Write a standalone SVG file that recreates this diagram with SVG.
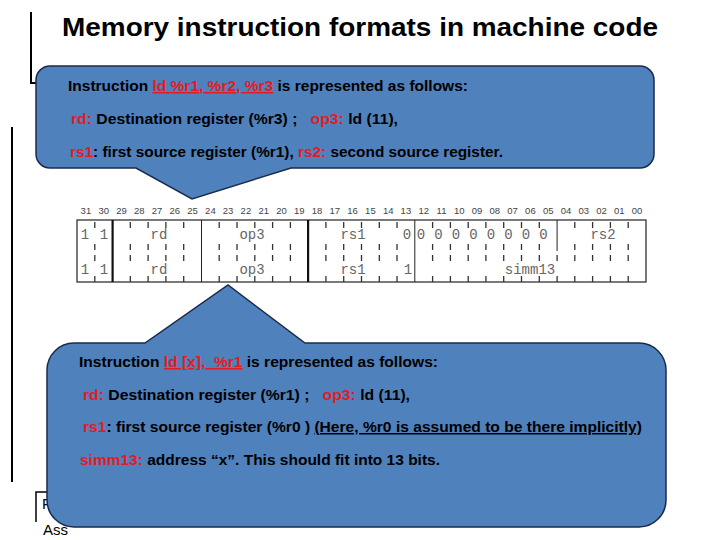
<svg xmlns="http://www.w3.org/2000/svg" width="720" height="540" viewBox="0 0 720 540">
<style>
.title{font-family:"Liberation Sans",Arial,sans-serif;font-weight:bold;font-size:26px;fill:#000}
.ct{font-family:"Liberation Sans",Arial,sans-serif;font-weight:bold;font-size:15px;fill:#000}
.r{fill:#E41B23}
.u{text-decoration:underline}
.callout{fill:#4F81BD;stroke:#1A2B4A;stroke-width:1.5}
.rule{fill:none;stroke:#000;stroke-width:2}
.num{font-family:"Liberation Sans",Arial,sans-serif;font-size:9.5px;fill:#444;text-anchor:middle}
.cell{font-family:"Liberation Mono","Courier New",monospace;font-size:14px;fill:#666;text-anchor:middle}
.tbl{fill:#fff;stroke:#222;stroke-width:1.2}
.thin{stroke:#222;stroke-width:1}
.thick{stroke:#111;stroke-width:2.2}
.tick{fill:none;stroke:#333;stroke-width:1.3}
.bg{font-family:"Liberation Sans",Arial,sans-serif;font-size:15px;fill:#000}
</style>

<g id="title">
<text class="title" x="62" y="36" textLength="596" lengthAdjust="spacingAndGlyphs">Memory instruction formats in machine code</text>
</g>

<g id="frame-lines">
<path class="rule" d="M31 12 V83 H40"/>
<path class="rule" d="M12 127 V482"/>
<path fill="none" stroke="#000" stroke-width="1.5" d="M36 522 V492 H52"/>
<text class="bg" x="42" y="509">F</text>
<text class="bg" x="43" y="535">Ass</text>
</g>

<g id="bit-format-table">
<g id="bit-numbers">
<text class="num" x="85.9" y="214">31</text>
<text class="num" x="103.7" y="214">30</text>
<text class="num" x="121.5" y="214">29</text>
<text class="num" x="139.2" y="214">28</text>
<text class="num" x="157.0" y="214">27</text>
<text class="num" x="174.8" y="214">26</text>
<text class="num" x="192.6" y="214">25</text>
<text class="num" x="210.4" y="214">24</text>
<text class="num" x="228.1" y="214">23</text>
<text class="num" x="245.9" y="214">22</text>
<text class="num" x="263.7" y="214">21</text>
<text class="num" x="281.5" y="214">20</text>
<text class="num" x="299.3" y="214">19</text>
<text class="num" x="317.0" y="214">18</text>
<text class="num" x="334.8" y="214">17</text>
<text class="num" x="352.6" y="214">16</text>
<text class="num" x="370.4" y="214">15</text>
<text class="num" x="388.2" y="214">14</text>
<text class="num" x="405.9" y="214">13</text>
<text class="num" x="423.7" y="214">12</text>
<text class="num" x="441.5" y="214">11</text>
<text class="num" x="459.3" y="214">10</text>
<text class="num" x="477.1" y="214">09</text>
<text class="num" x="494.8" y="214">08</text>
<text class="num" x="512.6" y="214">07</text>
<text class="num" x="530.4" y="214">06</text>
<text class="num" x="548.2" y="214">05</text>
<text class="num" x="566.0" y="214">04</text>
<text class="num" x="583.7" y="214">03</text>
<text class="num" x="601.5" y="214">02</text>
<text class="num" x="619.3" y="214">01</text>
<text class="num" x="637.1" y="214">00</text>
</g>
<rect class="tbl" x="77" y="220" width="569" height="62"/>
<g id="dividers">
<line class="thick" x1="112.6" y1="220" x2="112.6" y2="282"/>
<line class="thin" x1="201.5" y1="220" x2="201.5" y2="282"/>
<line class="thick" x1="308.1" y1="220" x2="308.1" y2="282"/>
<line class="thin" x1="414.8" y1="220" x2="414.8" y2="282"/>
<line class="thin" x1="557.1" y1="220" x2="557.1" y2="251"/>
</g>
<path class="tick" d="M94.8 222v6M94.8 244v6M94.8 255v6M94.8 276v6
M130.3 222v6M130.3 244v6M130.3 255v6M130.3 276v6
M148.1 222v6M148.1 244v6M148.1 255v6M148.1 276v6
M165.9 222v6M165.9 244v6M165.9 255v6M165.9 276v6
M183.7 222v6M183.7 244v6M183.7 255v6M183.7 276v6
M219.2 222v6M219.2 244v6M219.2 255v6M219.2 276v6
M237.0 222v6M237.0 244v6M237.0 255v6M237.0 276v6
M254.8 222v6M254.8 244v6M254.8 255v6M254.8 276v6
M272.6 222v6M272.6 244v6M272.6 255v6M272.6 276v6
M290.4 222v6M290.4 244v6M290.4 255v6M290.4 276v6
M325.9 222v6M325.9 244v6M325.9 255v6M325.9 276v6
M343.7 222v6M343.7 244v6M343.7 255v6M343.7 276v6
M361.5 222v6M361.5 244v6M361.5 255v6M361.5 276v6
M379.3 222v6M379.3 244v6M379.3 255v6M379.3 276v6
M397.0 222v6M397.0 244v6M397.0 255v6M397.0 276v6
M432.6 222v6M432.6 244v6M432.6 255v6M432.6 276v6
M450.4 222v6M450.4 244v6M450.4 255v6M450.4 276v6
M468.2 222v6M468.2 244v6M468.2 255v6M468.2 276v6
M485.9 222v6M485.9 244v6M485.9 255v6M485.9 276v6
M503.7 222v6M503.7 244v6M503.7 255v6M503.7 276v6
M521.5 222v6M521.5 244v6M521.5 255v6M521.5 276v6
M539.3 222v6M539.3 244v6M539.3 255v6M539.3 276v6
M557.1 255v6M557.1 276v6
M574.8 222v6M574.8 244v6M574.8 255v6M574.8 276v6
M592.6 222v6M592.6 244v6M592.6 255v6M592.6 276v6
M610.4 222v6M610.4 244v6M610.4 255v6M610.4 276v6
M628.2 222v6M628.2 244v6M628.2 255v6M628.2 276v6"/>
<g id="row1">
<text class="cell" x="85" y="239">1</text>
<text class="cell" x="104" y="239">1</text>
<text class="cell" x="159" y="239">rd</text>
<text class="cell" x="252" y="239">op3</text>
<text class="cell" x="353" y="239">rs1</text>
<text class="cell" x="407" y="239">0</text>
<text class="cell" x="421" y="239">0</text>
<text class="cell" x="438.5" y="239">0</text>
<text class="cell" x="456" y="239">0</text>
<text class="cell" x="473.5" y="239">0</text>
<text class="cell" x="491" y="239">0</text>
<text class="cell" x="508.5" y="239">0</text>
<text class="cell" x="526" y="239">0</text>
<text class="cell" x="543.5" y="239">0</text>
<text class="cell" x="603" y="239">rs2</text>
</g>
<g id="row2">
<text class="cell" x="85" y="274">1</text>
<text class="cell" x="104" y="274">1</text>
<text class="cell" x="159" y="274">rd</text>
<text class="cell" x="252" y="274">op3</text>
<text class="cell" x="353" y="274">rs1</text>
<text class="cell" x="408" y="274">1</text>
<text class="cell" x="530" y="274">simm13</text>
</g>
</g>

<g id="callout-register">
<path class="callout" d="M50 66 H640 A14 14 0 0 1 654 80 V154 A14 14 0 0 1 640 168 H291 L192 199 L136 168 H50 A14 14 0 0 1 36 154 V80 A14 14 0 0 1 50 66 Z"/>
<text class="ct" x="68" y="91" textLength="400" lengthAdjust="spacingAndGlyphs" xml:space="preserve">Instruction <tspan class="r u">ld %r1, %r2, %r3</tspan> is represented as follows:</text>
<text class="ct" x="71" y="124" textLength="327" lengthAdjust="spacingAndGlyphs" xml:space="preserve"><tspan class="r">rd:</tspan> Destination register (%r3) ;   <tspan class="r">op3:</tspan> ld (11),</text>
<text class="ct" x="70" y="157" textLength="433" lengthAdjust="spacingAndGlyphs" xml:space="preserve"><tspan class="r">rs1</tspan>: first source register (%r1), <tspan class="r">rs2:</tspan> second source register.</text>
</g>

<g id="callout-immediate">
<path class="callout" d="M74 343 H145 L228 285 L305 343 H639 A27 27 0 0 1 666 370 V500 A27 27 0 0 1 639 527 H74 A27 27 0 0 1 47 500 V370 A27 27 0 0 1 74 343 Z"/>
<text class="ct" x="79" y="367" textLength="359" lengthAdjust="spacingAndGlyphs" xml:space="preserve">Instruction <tspan class="r u">ld [x],  %r1</tspan> is represented as follows:</text>
<text class="ct" x="83" y="400" textLength="327" lengthAdjust="spacingAndGlyphs" xml:space="preserve"><tspan class="r">rd:</tspan> Destination register (%r1) ;   <tspan class="r">op3:</tspan> ld (11),</text>
<text class="ct" x="83" y="432" textLength="559" lengthAdjust="spacingAndGlyphs" xml:space="preserve"><tspan class="r">rs1</tspan>: first source register (%r0 ) <tspan class="u">(Here, %r0 is assumed to be there implicitly)</tspan></text>
<text class="ct" x="80" y="465" textLength="360" lengthAdjust="spacingAndGlyphs" xml:space="preserve"><tspan class="r">simm13:</tspan> address “x”. This should fit into 13 bits.</text>
</g>
</svg>
